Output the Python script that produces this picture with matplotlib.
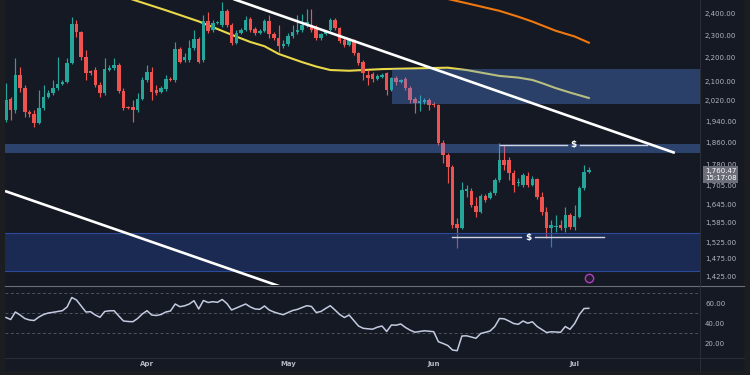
import matplotlib
matplotlib.use("Agg")
import matplotlib.pyplot as plt
import matplotlib.dates as mdates
import matplotlib.ticker as mticker
import matplotlib.transforms as mtransforms
from matplotlib.lines import Line2D
from matplotlib.patches import Rectangle
import numpy as np
import pandas as pd

# ---------------- data ----------------
start_date = "2023-03-02"

opens = [1944, 2027, 1983, 2126, 2072, 1975, 1967, 1933, 1991, 2035,
         2051, 2072, 2088, 2097, 2177, 2353, 2316, 2203, 2143, 2147,
         2084, 2051, 2147, 2156, 2169, 2059, 1995, 1995, 1983, 2027,
         2105, 2139, 2063, 2055, 2068, 2109, 2105, 2239, 2190, 2190,
         2243, 2284, 2190, 2367, 2325, 2357, 2348, 2414, 2348, 2266,
         2311, 2325, 2376, 2330, 2311, 2320, 2367, 2307, 2288, 2252,
         2261, 2298, 2316, 2325, 2348, 2348, 2339, 2288, 2307, 2325,
         2371, 2334, 2279, 2257, 2279, 2221, 2182, 2126, 2130, 2109,
         2117, 2134, 2063, 2113, 2097, 2109, 2072, 2027, 2011, 2015,
         2023, 2007, 2003, 1857, 1813, 1771, 1581, 1568, 1688, 1688,
         1638, 1619, 1671, 1665, 1681, 1725, 1795, 1795, 1750, 1715,
         1708, 1739, 1708, 1729, 1668, 1619, 1568, 1571, 1578, 1568,
         1609, 1571, 1603, 1698, 1753]
highs = [2092, 2035, 2199, 2160, 2084, 1983, 1983, 2063, 2084, 2063,
         2105, 2203, 2105, 2199, 2386, 2371, 2320, 2234, 2147, 2160,
         2097, 2199, 2169, 2199, 2177, 2072, 1999, 2023, 2051, 2117,
         2169, 2160, 2084, 2080, 2126, 2117, 2270, 2248, 2221, 2279,
         2325, 2293, 2395, 2410, 2371, 2367, 2458, 2424, 2357, 2325,
         2334, 2391, 2386, 2339, 2330, 2376, 2395, 2316, 2348, 2279,
         2311, 2348, 2395, 2400, 2424, 2424, 2348, 2311, 2325, 2381,
         2381, 2339, 2288, 2288, 2284, 2225, 2190, 2147, 2139, 2130,
         2134, 2139, 2117, 2122, 2109, 2117, 2080, 2035, 2043, 2031,
         2031, 2015, 2007, 1868, 1821, 1778, 1600, 1719, 1708, 1698,
         1668, 1678, 1678, 1688, 1732, 1857, 1850, 1806, 1760, 1732,
         1750, 1753, 1739, 1732, 1685, 1635, 1594, 1609, 1593, 1635,
         1616, 1642, 1705, 1778, 1771]
lows = [1936, 1944, 1971, 2055, 1956, 1956, 1917, 1930, 1983, 2031,
        2043, 2063, 2084, 2092, 2173, 2293, 2190, 2105, 2126, 2076,
        2035, 2043, 2143, 2147, 2051, 1983, 1987, 1936, 1975, 2023,
        2097, 2023, 2043, 2051, 2059, 2101, 2097, 2177, 2182, 2182,
        2234, 2177, 2182, 2311, 2316, 2353, 2339, 2339, 2257, 2261,
        2307, 2320, 2316, 2302, 2307, 2316, 2288, 2279, 2225, 2243,
        2252, 2288, 2307, 2316, 2339, 2316, 2279, 2279, 2302, 2320,
        2325, 2266, 2248, 2252, 2212, 2169, 2105, 2084, 2097, 2105,
        2113, 2043, 2059, 2084, 2092, 2063, 2011, 1971, 1979, 2007,
        1983, 1995, 1850, 1785, 1715, 1568, 1507, 1565, 1668, 1635,
        1603, 1616, 1652, 1661, 1675, 1719, 1760, 1725, 1685, 1705,
        1701, 1701, 1705, 1661, 1609, 1538, 1510, 1556, 1562, 1556,
        1565, 1562, 1600, 1691, 1750]
closes = [2023, 1983, 2126, 2072, 1975, 1967, 1933, 1991, 2035, 2051,
          2072, 2088, 2097, 2177, 2353, 2316, 2203, 2134, 2134, 2084,
          2051, 2151, 2156, 2169, 2059, 1991, 1991, 1983, 2027, 2105,
          2139, 2055, 2051, 2072, 2109, 2105, 2239, 2182, 2203, 2243,
          2284, 2182, 2367, 2320, 2357, 2362, 2414, 2348, 2266, 2311,
          2325, 2371, 2325, 2311, 2320, 2367, 2307, 2288, 2252, 2261,
          2298, 2316, 2325, 2348, 2362, 2325, 2288, 2307, 2320, 2371,
          2334, 2275, 2257, 2279, 2221, 2177, 2134, 2113, 2109, 2122,
          2126, 2063, 2113, 2097, 2105, 2072, 2023, 2011, 2019, 2023,
          2003, 2003, 1857, 1813, 1771, 1578, 1568, 1691, 1695, 1642,
          1619, 1671, 1658, 1681, 1725, 1795, 1778, 1750, 1708, 1719,
          1743, 1708, 1729, 1668, 1619, 1568, 1578, 1575, 1568, 1609,
          1571, 1606, 1698, 1753, 1760.47]

rsi = [45.5, 43.5, 51, 48, 44.5, 43, 42.5, 46, 48.5, 50,
       50.7, 51.5, 52.3, 56, 65.5, 63, 57, 51, 51.3, 48,
       45.7, 51.5, 52.2, 52.3, 47, 42, 41.5, 41.3, 44.5, 49,
       52.3, 48, 47.5, 48.5, 51, 52, 59, 56.3, 57.2, 59,
       62.3, 54, 62.5, 60.5, 61.3, 60.7, 63.5, 59.5, 53, 55,
       57, 59, 56, 54, 53.7, 57, 53, 51, 49.5, 48.3,
       50.5, 52.5, 53.6, 55.5, 57.3, 56.5, 50.5, 51.5, 54.5, 57.3,
       53, 48.5, 45.5, 48, 42.5, 37, 34.7, 34.2, 33.8, 35.8,
       37, 31.5, 38, 37.8, 39, 35.5, 32.8, 30.8, 31.5, 32.2,
       31.8, 31.3, 21.3, 19.5, 17.5, 13, 12.3, 27, 27.2, 26,
       24.7, 29.5, 30.7, 32, 36.5, 44.5, 44.2, 42, 39.5, 38.7,
       42, 39.8, 41.2, 36.5, 33.5, 30.5, 31.2, 31, 30.7, 36.5,
       33.7, 39.5, 48.5, 54.5, 54.7]

# moving averages (day offset from start, value)
ma_fast_days = [26, 34, 41, 48, 52, 55, 58, 63, 66, 69, 73, 80, 87, 94, 98, 105, 109, 112, 114, 117, 120, 124]
ma_fast_vals = [2477, 2418, 2365, 2303, 2270, 2251, 2217, 2181, 2162, 2147, 2144, 2151, 2154, 2157, 2147, 2122, 2115, 2105, 2092, 2071, 2053, 2031]
ma_slow_days = [93, 98, 105, 109, 112, 117, 121, 124]
ma_slow_vals = [2478, 2452, 2415, 2387, 2364, 2321, 2295, 2267]

# zones
zone_upper = (82.1, 2007, 2151)   # start day, low, high
zone_thin = (1822, 1854)
zone_lower = (1441, 1554)

# trendlines: (day, price) anchor pairs
trend_upper = [(47.7, 2478), (142.3, 1821)]
trend_lower = [(-0.2, 1688), (60.4, 1387)]

# liquidity levels: (start day, gap start, gap end, end day, price)
level_high = (105.1, 119.4, 122.1, 136.4, 1850)
level_low = (94.9, 109.6, 112.6, 127.2, 1540)

price_ticks = [2400, 2300, 2200, 2100, 2020, 1940, 1860, 1780, 1705, 1645, 1585, 1525, 1475, 1425]
rsi_ticks = [60, 40, 20]
rsi_levels = [70, 50, 30]
month_ticks = ["2023-04-01", "2023-05-01", "2023-06-01", "2023-07-01"]
month_labels = ["Apr", "May", "Jun", "Jul"]
clock_text = "15:17:08"

# ---------------- style ----------------
BG = "#151924"
UP = "#26a69a"
DOWN = "#ef5350"
TXT = "#b2b5be"
W, H = 750, 375

fig = plt.figure(figsize=(7.5, 3.75), dpi=100, facecolor="#1c1d21")
fig.patches.append(Rectangle((5 / W, 1 - 371 / H), 739 / W, 371 / H,
                             transform=fig.transFigure, facecolor=BG, edgecolor="none", zorder=-10))


def rect(x0, y0, x1, y1):
    return [x0 / W, 1 - y1 / H, (x1 - x0) / W, (y1 - y0) / H]


ax = fig.add_axes(rect(5, 0, 700, 285))
axr = fig.add_axes(rect(5, 286, 700, 357), sharex=ax)
for a in (ax, axr):
    a.set_facecolor(BG)
    for s in a.spines.values():
        s.set_visible(False)

base = mdates.date2num(pd.Timestamp(start_date))
dates = pd.date_range(start_date, periods=len(closes), freq="D")
xs = mdates.date2num(dates)
o = np.array(opens, float)
h = np.array(highs, float)
l = np.array(lows, float)
c = np.array(closes, float)
up = c >= o
cols = np.where(up, UP, DOWN)

ax.set_yscale("log")
ax.vlines(xs, l, h, colors=cols, linewidth=0.85, zorder=3)
bot = np.minimum(o, c)
hgt = np.maximum(np.abs(c - o), 0.8)
ax.bar(xs, hgt, bottom=bot, width=0.74, color=cols, linewidth=0, zorder=4)

# moving averages
ax.plot(base + np.array(ma_fast_days), ma_fast_vals, color="#e9d84a", lw=1.5, zorder=2)
ax.plot(base + np.array(ma_slow_days), ma_slow_vals, color="#f0780f", lw=1.5, zorder=2)

# zones (translucent, over the price)
ZONE = "#568cee"
ax.add_patch(Rectangle((base + zone_upper[0], zone_upper[1]), 200, zone_upper[2] - zone_upper[1],
                       facecolor=ZONE, alpha=0.34, edgecolor="none", zorder=5))
ax.axhspan(zone_thin[0], zone_thin[1], facecolor=ZONE, alpha=0.37, edgecolor="none", zorder=5)
ax.axhspan(zone_lower[0], zone_lower[1], facecolor="#2a4fb0", alpha=0.33, edgecolor="none", zorder=5)
ax.axhline(zone_lower[0], color="#2b4a9a", lw=0.8, zorder=5.1)
ax.axhline(zone_lower[1], color="#2b4a9a", lw=0.8, zorder=5.1)

# trendlines
for tl in (trend_upper, trend_lower):
    ax.plot([base + tl[0][0], base + tl[1][0]], [tl[0][1], tl[1][1]],
            color="white", lw=1.9, solid_capstyle="butt", zorder=6)

# $ levels
for lv in (level_high, level_low):
    s0, g0, g1, e0, p = lv
    ax.plot([base + s0, base + g0], [p, p], color="#d1d4dc", lw=1.0, zorder=6)
    ax.plot([base + g1, base + e0], [p, p], color="#d1d4dc", lw=1.0, zorder=6)
    ax.text(base + (g0 + g1) / 2, p, "$", color="white", fontsize=6.5, fontweight="bold",
            ha="center", va="center", zorder=7)

ax.set_xlim(base - 0.21, base + 147.66)
ax.set_ylim(1400.4, 2467.7)
ax.yaxis.tick_right()
ax.yaxis.set_major_locator(mticker.FixedLocator(price_ticks))
ax.yaxis.set_minor_locator(mticker.NullLocator())
ax.yaxis.set_major_formatter(mticker.FuncFormatter(lambda v, p: f"{v:,.2f}"))
ax.tick_params(axis="y", which="both", length=0, pad=3.6, labelsize=5, labelcolor=TXT)
ax.tick_params(axis="x", length=0, labelbottom=False)

# current price box
ax.annotate(f"{closes[-1]:,.2f}\n{clock_text}", xy=(1, closes[-1]),
            xycoords=("axes fraction", "data"), xytext=(3.4, 1.5), textcoords="offset points",
            ha="left", va="top", fontsize=5, color="white", linespacing=1.2,
            bbox=dict(boxstyle="square,pad=0.3", fc="#6b6e79", ec="none"),
            annotation_clip=False, zorder=10)

# event icon
trans = mtransforms.blended_transform_factory(ax.transData, ax.transAxes)
ax.plot([xs[-1]], [0.025], transform=trans, marker="o", ms=6, mfc="#221a30",
        mec="#b03fc0", mew=1, clip_on=False, zorder=8)

# RSI
axr.plot(xs, rsi, color="#c3cbe0", lw=1.1, zorder=3)
for lvl in rsi_levels:
    axr.axhline(lvl, color="#50535e", lw=0.7, ls=(0, (3, 2.5)), zorder=1)
axr.set_ylim(6, 77)
axr.yaxis.tick_right()
axr.yaxis.set_major_locator(mticker.FixedLocator(rsi_ticks))
axr.yaxis.set_major_formatter(mticker.FuncFormatter(lambda v, p: f"{v:.2f}"))
axr.tick_params(axis="y", length=0, pad=3.6, labelsize=5, labelcolor=TXT)
axr.set_xticks(mdates.date2num(pd.to_datetime(month_ticks)))
axr.set_xticklabels(month_labels)
axr.tick_params(axis="x", length=0, pad=3.0, labelsize=5, labelcolor=TXT)
for lab in axr.get_xticklabels():
    lab.set_fontweight("bold")

# separators
fig.add_artist(Line2D([5 / W, 744 / W], [1 - 286 / H] * 2, color="#6b6e78", lw=0.8))
fig.add_artist(Line2D([5 / W, 744 / W], [1 - 357.5 / H] * 2, color="#2a2e39", lw=0.7))
fig.add_artist(Line2D([700 / W] * 2, [1, 1 - 371 / H], color="#2a2e39", lw=0.7))

fig.savefig("out.png", dpi=100, facecolor=fig.get_facecolor())
